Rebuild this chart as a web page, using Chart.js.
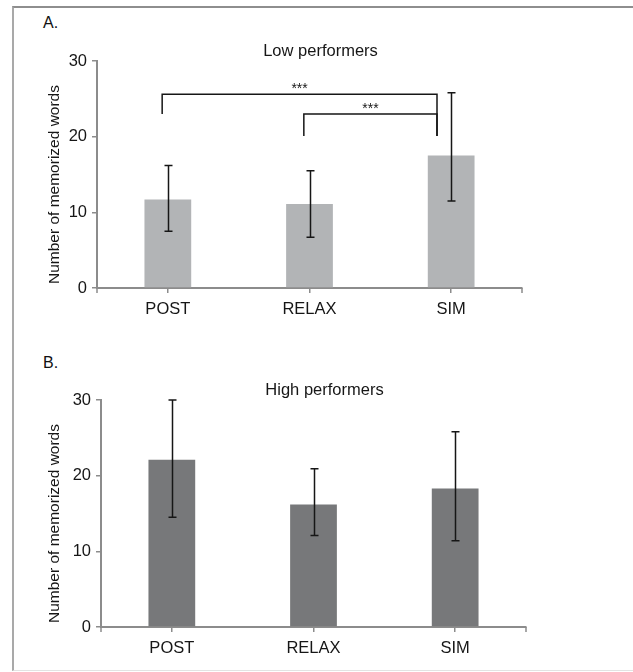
<!DOCTYPE html>
<html>
<head>
<meta charset="utf-8">
<script src="https://cdn.jsdelivr.net/npm/chart.js@4.4.1/dist/chart.umd.min.js"></script>
<style>
    html, body { margin: 0; padding: 0; background: #fff; width: 633px; height: 672px; overflow: hidden; }
    #frame {
        position: absolute; left: 12px; top: 6px; width: 720px; height: 662px;
        border-top: 2px solid #8e8e8e; border-left: 2px solid #a9a9a9; border-bottom: 1px solid #e3e3e3;
    }
    .panel { position: absolute; height: 339px; }
    .tag { position: absolute; left: 43px; font: 16px "Liberation Sans", Arial, sans-serif; line-height: 18px; color: #111; }
</style>
</head>
<body>
<div id="frame"></div>
<div class="tag" style="top:14px">A.</div>
<div class="tag" style="top:354px">B.</div>
<div class="panel" style="top:0; left:0"><canvas id="chartA" width="633" height="339"></canvas></div>
<div class="panel" style="top:339px; left:4px"><canvas id="chartB" width="629" height="339"></canvas></div>

<script>
// カテゴリ
const categories = ['POST', 'RELAX', 'SIM'];

// A. Low performers（平均値とエラーバー上下端）
const lowMeans = [11.7, 11.1, 17.5];
const lowErrHigh = [16.2, 15.5, 25.8];
const lowErrLow = [7.5, 6.7, 11.5];

// B. High performers
const highMeans = [22.1, 16.2, 18.3];
const highErrHigh = [30.0, 20.9, 25.8];
const highErrLow = [14.5, 12.1, 11.4];

// 有意差の括弧（A のみ）
const sigFrom = [0, 1];
const sigTo = [2, 2];
const sigLevel = [25.6, 23.0];
const sigLegFrom = [23.0, 20.1];
const sigLegTo = [20.1, 20.1];
const sigLabel = ['***', '***'];

// y軸目盛
const yTicks = [0, 10, 20, 30];

const FONT = '"Liberation Sans", Arial, sans-serif';
const AXIS_COLOR = '#8c8c8c';
const INK = '#161616';

// タイトル・エラーバー・括弧・軸ラベルを描くプラグイン
const extrasPlugin = {
    id: 'extras',
    afterDatasetsDraw(chart, args, opts) {
        const { ctx, chartArea } = chart;
        const x = chart.scales.x;
        const y = chart.scales.y;
        const catW = (chartArea.right - chartArea.left) / categories.length;

        ctx.save();
        ctx.strokeStyle = INK;
        ctx.lineWidth = 1.5;

        // エラーバー
        opts.errLow.forEach((lo, i) => {
            const cx = Math.round(x.getPixelForValue(i)) + 0.5;
            const yTop = y.getPixelForValue(opts.errHigh[i]);
            const yBot = y.getPixelForValue(lo);
            ctx.beginPath();
            ctx.moveTo(cx, yTop);
            ctx.lineTo(cx, yBot);
            ctx.moveTo(cx - 4, yTop);
            ctx.lineTo(cx + 4, yTop);
            ctx.moveTo(cx - 4, yBot);
            ctx.lineTo(cx + 4, yBot);
            ctx.stroke();
        });

        // 有意差の括弧
        if (opts.showSig) {
            ctx.fillStyle = INK;
            ctx.font = '14px ' + FONT;
            ctx.textAlign = 'center';
            ctx.textBaseline = 'alphabetic';
            sigFrom.forEach((f, i) => {
                const x1 = x.getPixelForValue(f) - 0.04 * catW;
                const x2 = x.getPixelForValue(sigTo[i]) - 0.1 * catW;
                const yl = y.getPixelForValue(sigLevel[i]);
                ctx.beginPath();
                ctx.moveTo(x1, y.getPixelForValue(sigLegFrom[i]));
                ctx.lineTo(x1, yl);
                ctx.lineTo(x2, yl);
                ctx.lineTo(x2, y.getPixelForValue(sigLegTo[i]));
                ctx.stroke();
                ctx.fillText(sigLabel[i], (x1 + x2) / 2, yl - 1);
            });
        }
        ctx.restore();
    },
    afterDraw(chart, args, opts) {
        const { ctx, chartArea } = chart;
        ctx.save();
        // x軸両端の目盛
        ctx.strokeStyle = AXIS_COLOR;
        ctx.lineWidth = 1.5;
        ctx.beginPath();
        ctx.moveTo(chartArea.left, chartArea.bottom);
        ctx.lineTo(chartArea.left, chartArea.bottom + 5);
        ctx.moveTo(chartArea.right, chartArea.bottom);
        ctx.lineTo(chartArea.right, chartArea.bottom + 5);
        ctx.stroke();

        // タイトル（プロット中心より少し右）
        ctx.fillStyle = INK;
        ctx.font = '16.5px ' + FONT;
        ctx.textAlign = 'center';
        ctx.textBaseline = 'alphabetic';
        ctx.fillText(opts.title, (chartArea.left + chartArea.right) / 2 + 11, chartArea.top - 5);

        // y軸タイトル
        ctx.translate(opts.labelX, (chartArea.top + chartArea.bottom) / 2 + 10);
        ctx.rotate(-Math.PI / 2);
        ctx.font = '15.5px ' + FONT;
        ctx.textBaseline = 'middle';
        ctx.fillText('Number of memorized words', 0, 0);
        ctx.restore();
    }
};

function buildChart(id, title, means, errLow, errHigh, color, showSig, labelX, padRight) {
    return new Chart(document.getElementById(id), {
        type: 'bar',
        data: {
            labels: categories,
            datasets: [{
                data: means,
                backgroundColor: color,
                borderWidth: 0,
                barPercentage: 0.33,
                categoryPercentage: 1
            }]
        },
        options: {
            responsive: false,
            animation: false,
            layout: {
                padding: { left: 0, right: padRight, top: 61, bottom: 11 }
            },
            plugins: {
                legend: { display: false },
                tooltip: { enabled: false },
                title: { display: false },
                extras: { title, errLow, errHigh, showSig, labelX }
            },
            scales: {
                x: {
                    grid: {
                        display: true,
                        drawOnChartArea: false,
                        drawTicks: true,
                        tickLength: 5,
                        color: AXIS_COLOR,
                        lineWidth: 1.5,
                        offset: false
                    },
                    border: { color: AXIS_COLOR, width: 2 },
                    ticks: { color: INK, font: { family: FONT, size: 16.5 }, padding: 7 },
                    afterFit: (s) => { s.height = 40; }
                },
                y: {
                    min: yTicks[0],
                    max: yTicks[yTicks.length - 1],
                    afterBuildTicks: (s) => { s.ticks = yTicks.map(v => ({ value: v })); },
                    grid: {
                        display: true,
                        drawOnChartArea: false,
                        drawTicks: true,
                        tickLength: 5,
                        color: AXIS_COLOR,
                        lineWidth: 1.5
                    },
                    border: { color: AXIS_COLOR, width: 2 },
                    ticks: { color: INK, font: { family: FONT, size: 16.5 }, padding: 5 },
                    afterFit: (s) => { s.width = 97; }
                }
            }
        },
        plugins: [extrasPlugin]
    });
}

buildChart('chartA', 'Low performers', lowMeans, lowErrLow, lowErrHigh, '#b2b4b6', true, 55, 111);
buildChart('chartB', 'High performers', highMeans, highErrLow, highErrHigh, '#77787a', false, 51, 107);
</script>
</body>
</html>
